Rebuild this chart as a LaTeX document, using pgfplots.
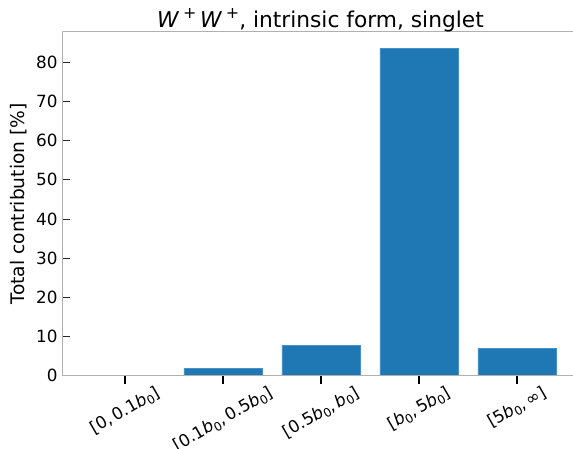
\documentclass[border=0pt]{standalone}
\usepackage{fontspec}
\setmainfont{DejaVu Sans}
\usepackage{graphicx}
\usepackage{pgfplots}
\pgfplotsset{compat=1.18}
\definecolor{barblue}{RGB}{31,119,180}
\definecolor{baredge}{RGB}{70,145,200}
\definecolor{spine}{RGB}{176,176,176}
\newcommand\sub[1]{\raisebox{-0.35ex}{\fontsize{9}{9}\selectfont #1}}
\newcommand\sups[1]{\,\raisebox{0.75ex}{\fontsize{12}{12}\selectfont #1}}
\newcommand\bb{\textit{b}}
\newcommand\rl[1]{\rotatebox{30}{#1}}
\begin{document}
\begin{tikzpicture}
\begin{axis}[
  name=ax,
  scale only axis, width=383pt, height=258pt,
  xmin=-0.64, xmax=4.571, ymin=0, ymax=87.8,
  axis x line*=bottom, axis y line*=left,
  axis line style={draw=spine, line width=0.8pt, -},
  axis on top,
  tick align=inside,
  major tick length=6pt,
  xtick={0,1,2,3,4},
  xticklabels={{\rl{[0,\,0.1\bb\sub{0}]}},{\rl{[0.1\bb\sub{0},\,0.5\bb\sub{0}]}},{\rl{[0.5\bb\sub{0},\,\bb\sub{0}]}},{\rl{[\bb\sub{0},\,5\bb\sub{0}]}},{\rl{[5\bb\sub{0},\,∞]}}},
  ytick={0,10,...,80},
  x tick style={black, line width=1.1pt},
  y tick style={black!85, line width=0.8pt},
  tick label style={font=\fontsize{12.6}{15}\selectfont},
  /pgf/number format/assume math mode=true,
  xticklabel style={anchor=north, inner sep=0pt},
  xticklabel shift=0.5pt,
  ylabel={Total contribution [\%]},
  ylabel style={at={(axis description cs:-0.0731,0.5)}, anchor=base, font=\fontsize{14}{16}\selectfont},
  every axis title shift=0pt,
  title={\textit{W}\sups{+}\,\textit{W}\sups{+}, intrinsic form, singlet},
  title style={at={(axis description cs:0.5056,1.0128)}, anchor=base, font=\fontsize{16.3}{19}\selectfont},
  ybar, bar width=0.8, bar shift=0pt,
]
\addplot[fill=barblue, draw=baredge, line width=0.4pt] coordinates {
  (0,0.03) (1,1.85) (2,7.75) (3,83.6) (4,7.05)
};
\draw[spine, line width=0.8pt] (rel axis cs:0,1) -- (rel axis cs:1,1);
\end{axis}
\pgfresetboundingbox
\path ([shift={(-46.7pt,-54.2pt)}]ax.south west) rectangle ([shift={(0pt,23.8pt)}]ax.north east);
\end{tikzpicture}
\end{document}
